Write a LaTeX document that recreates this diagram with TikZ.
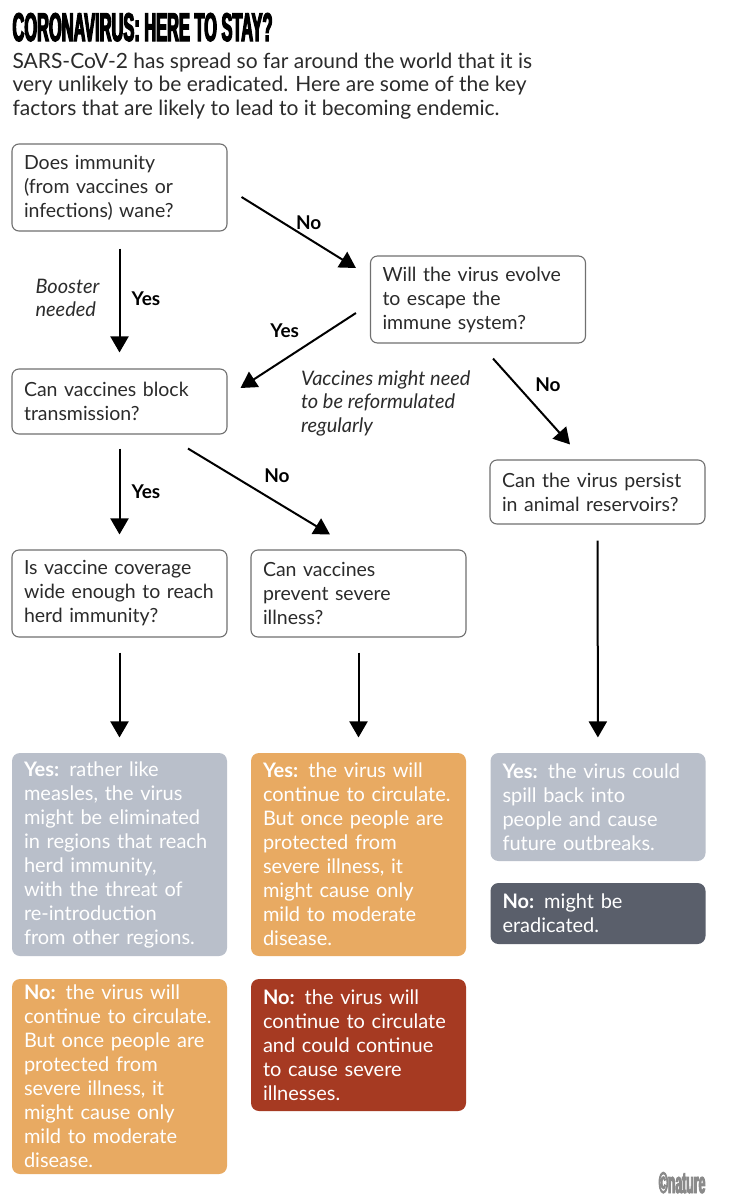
\documentclass[tikz,border=0pt]{standalone}
\usepackage{fontspec}
\setmainfont{Lato}
\newfontfamily\headfont[FakeStretch=0.41,FakeBold=3]{Liberation Sans}
\usetikzlibrary{arrows.meta,calc}
\definecolor{ink}{HTML}{2B2B2B}
\definecolor{edge}{HTML}{707070}
\definecolor{cgrey}{HTML}{B9BFCA}
\definecolor{corange}{HTML}{E8AA62}
\definecolor{cdark}{HTML}{5A5F6B}
\definecolor{cred}{HTML}{A63A22}
\definecolor{credit}{HTML}{8A8A8A}
\tikzset{
  every picture/.style={line width=1.1pt,font=\fontsize{20}{24}\selectfont},
  qbx/.style={draw=edge,fill=white,rounded corners=7pt,align=left,text=ink,
    font=\fontsize{19.5}{24}\selectfont,
    minimum width=215pt,text width=191pt,inner xsep=12pt,inner ysep=0pt},
  obx/.style={rounded corners=8pt,align=left,text=white,
    minimum width=215pt,text width=191pt,inner xsep=12pt,inner ysep=0pt},
  obg/.style={obx,fill=cgrey},
  obo/.style={obx,fill=corange},
  obd/.style={obx,fill=cdark},
  obr/.style={obx,fill=cred},
  arr/.style={-{Triangle[length=16pt,width=18pt]},line width=2pt,draw=black},
  yes/.style={font=\fontsize{19}{22}\selectfont\bfseries,text=black},
  note/.style={font=\fontsize{20}{23.5}\selectfont\itshape,text=ink,align=left},
}
\begin{document}
\begin{tikzpicture}[x=1pt,y=-1pt]
  \fill[white] (0,0) rectangle (754,1200);
  \useasboundingbox (0,0) rectangle (754,1200);
  \node[anchor=base west,inner sep=0pt,font=\headfont\fontsize{40}{40}\selectfont\bfseries] (title) at (12,41) {CORONAVIRUS: HERE TO STAY?};
  \node[anchor=north west,inner sep=0pt,align=left,text=ink,font=\fontsize{21}{23.5}\selectfont] (intro) at (12,52)
    {SARS-CoV-2 has spread so far around the world that it is\\very unlikely to be eradicated. Here are some of the key\\factors that are likely to lead to it becoming endemic.};
  \node[qbx,minimum height=87pt] (waning) at (119.5,187.5) {Does immunity\\(from vaccines or\\infections) wane?};
  \node[qbx,minimum height=87pt] (escape) at (478,299.5) {Will the virus evolve\\to escape the\\immune system?};
  \node[qbx,minimum height=65pt] (block) at (119.5,401.5) {Can vaccines block\\transmission?};
  \node[qbx,minimum height=64pt] (reservoir) at (597.5,492) {Can the virus persist\\in animal reservoirs?};
  \node[qbx,minimum height=87pt] (coverage) at (119.5,593.5) {Is vaccine coverage\\wide enough to reach\\herd immunity?};
  \node[qbx,minimum height=87pt] (severe) at (358.5,593.5) {Can vaccines\\prevent severe\\illness?};
  \node[obg,minimum height=203pt] (herd) at (119.5,854.5) {\textbf{Yes:} rather like\\measles, the virus\\might be eliminated\\in regions that reach\\herd immunity,\\with the threat of\\re-introduction\\from other regions.};
  \node[obo,minimum height=203pt] (mild) at (358.5,854.5) {\textbf{Yes:} the virus will\\continue to circulate.\\But once people are\\protected from\\severe illness, it\\might cause only\\mild to moderate\\disease.};
  \node[obg,minimum height=108pt] (spill) at (598,807) {\textbf{Yes:} the virus could\\spill back into\\people and cause\\future outbreaks.};
  \node[obd,minimum height=61pt] (gone) at (598,913.5) {\textbf{No:} might be\\eradicated.};
  \node[obo,minimum height=195pt] (mild2) at (119.5,1076.5) {\textbf{No:} the virus will\\continue to circulate.\\But once people are\\protected from\\severe illness, it\\might cause only\\mild to moderate\\disease.};
  \node[obr,minimum height=132pt] (harsh) at (358.5,1045) {\textbf{No:} the virus will\\continue to circulate\\and could continue\\to cause severe\\illnesses.};
  \node[anchor=base east,inner sep=0pt,text=credit,font=\headfont\fontsize{30}{30}\selectfont\bfseries] (credit) at (706,1193) {\textcopyright nature};
  \draw[arr,shorten <=17pt,shorten >=16pt] (waning) -- node[yes,shift={(26.5,-1)}]{Yes} node[note,shift={(-52,-2)}]{Booster\\needed} (block);
  \draw[arr] ([shift={(14,9.5)}]waning.east) -- node[yes,shift={(10,-9.5)}]{No} ([shift={(-14,-31.5)}]escape.west);
  \draw[arr] ([shift={(-14,13.5)}]escape.west) -- node[yes,shift={(-13.5,-19.5)}]{Yes} node[note,shift={(87.5,52.5)}]{Vaccines might need\\to be reformulated\\regularly} ([shift={(13,-13.5)}]block.east);
  \draw[arr] ([shift={(15,15)}]escape.south) -- node[yes,shift={(16.5,-16.5)}]{No} ([shift={(-27.5,-15)}]reservoir.north);
  \draw[arr,shorten <=14pt,shorten >=15pt] (block) -- node[yes,shift={(26.5,0)}]{Yes} (coverage);
  \draw[arr] ([shift={(68.5,14)}]block.south) -- node[yes,shift={(18,-15.5)}]{No} ([shift={(-28.5,-15)}]severe.north);
  \draw[arr,shorten <=15pt,shorten >=15pt] (coverage) -- (herd);
  \draw[arr,shorten <=15pt,shorten >=15pt] (severe) -- (mild);
  \draw[arr,shorten <=16pt,shorten >=15pt] (reservoir) -- (spill);
\end{tikzpicture}
\end{document}
